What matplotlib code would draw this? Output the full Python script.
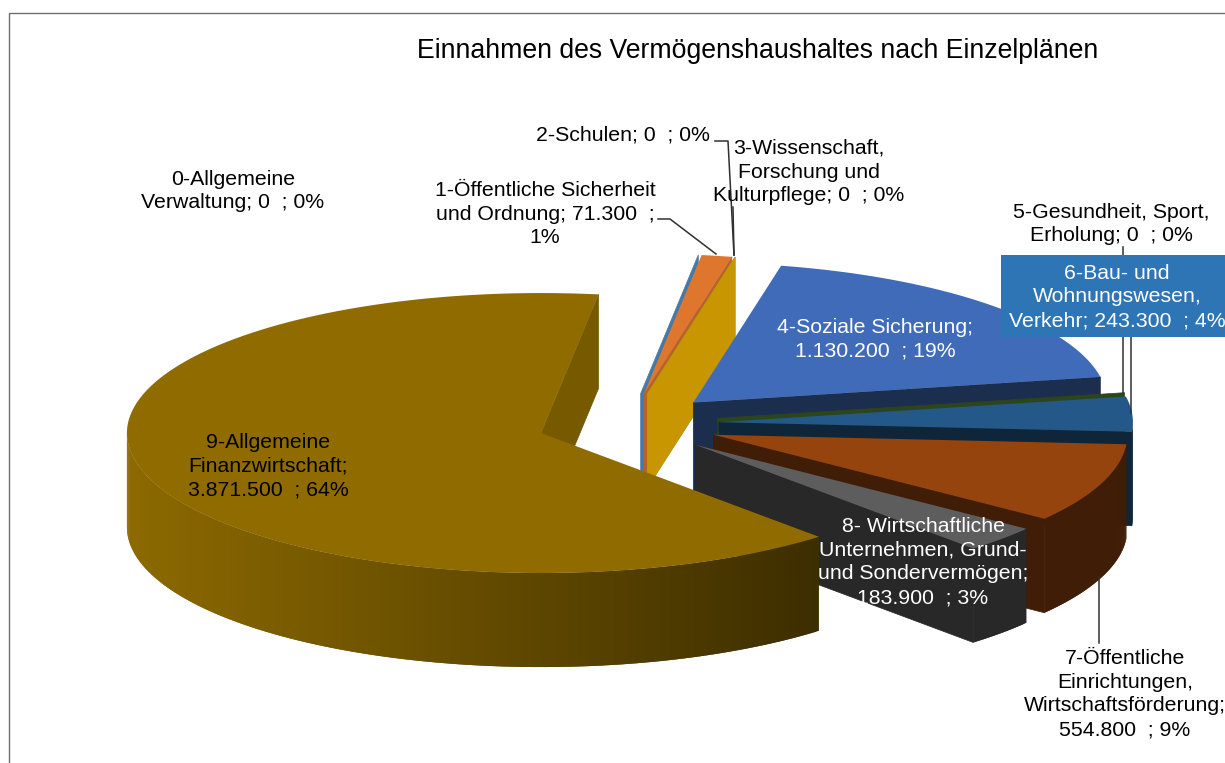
# -*- coding: utf-8 -*-
"""Einnahmen des Vermoegenshaushaltes - exploded 3D pie, drawn by hand (matplotlib has no 3D pie)."""
import numpy as np
import matplotlib; matplotlib.use("Agg")
import matplotlib.pyplot as plt
from matplotlib.collections import PolyCollection
from matplotlib.patches import Polygon, Rectangle

plt.rcParams["font.family"] = ["Liberation Sans", "DejaVu Sans"]

TITLE = "Einnahmen des Vermögenshaushaltes nach Einzelplänen"
VALUES = [0, 71300, 0, 0, 1130200, 0, 243300, 554800, 183900, 3871500]
COLORS = ["#5B9BD5", "#ED7D31", "#A5A5A5", "#FFC000", "#4472C4",
          "#70AD47", "#255E91", "#9E480E", "#636363", "#997300"]
LABELS = ["0-Allgemeine\nVerwaltung; {v}  ; {p}",
          "1-Öffentliche Sicherheit\nund Ordnung; {v}  ;\n{p}",
          "2-Schulen; {v}  ; {p}",
          "3-Wissenschaft,\nForschung und\nKulturpflege; {v}  ; {p}",
          "4-Soziale Sicherung;\n{v}  ; {p}",
          "5-Gesundheit, Sport,\nErholung; {v}  ; {p}",
          "6-Bau- und\nWohnungswesen,\nVerkehr; {v}  ; {p}",
          "7-Öffentliche\nEinrichtungen,\nWirtschaftsförderung;\n{v}  ; {p}",
          "8- Wirtschaftliche\nUnternehmen, Grund-\nund Sondervermögen;\n{v}  ; {p}",
          "9-Allgemeine\nFinanzwirtschaft;\n{v}  ; {p}"]
LABEL_POS = [(233, 191), (545, 214), (623, 135), (809, 172), (875, 339),
             (1111, 224), (1117, 297), (1125, 694), (923, 562), (268, 466)]
LABEL_COL = ["k", "k", "k", "k", "white", "k", "white", "k", "white", "k"]
# leader lines, pixel coords
LEADERS = [[(658, 219), (670, 219), (716, 254)],
           [(715, 141), (728, 141), (734, 255)],
           [(733, 207), (734, 255)],
           [(1123, 247), (1123, 393)],
           [(1131, 337), (1131, 413)],
           [(1099, 577), (1099, 643)]]

# pie geometry in pixels: centre, ellipse radii, height, explosion
CX, CY = 628, 424
RX, RY = 414, 140
DEPTH = 94
EXPLODE = 0.22
START = 8.0  # degrees clockwise from top


def pt(cx, cy, th):
    t = np.radians(th)
    return cx + RX*np.sin(t), cy - RY*np.cos(t)


def shade(col, s):
    return tuple(np.array(matplotlib.colors.to_rgb(col))*s)


fig = plt.figure(figsize=(12.25, 7.63), dpi=100)
ax = fig.add_axes([0, 0, 1, 1])
ax.set_xlim(0, 1225); ax.set_ylim(763, 0); ax.axis("off")

# chart frame, no right or bottom edge in view
ax.plot([8.5, 8.5, 1225], [763, 12.5, 12.5], color="#707070", lw=1.0, zorder=1)
ax.text(757.5, 50.5, TITLE, ha="center", va="center", fontsize=19.15, color="k", zorder=10)

total = sum(VALUES)
th0 = START
for val, col in zip(VALUES, COLORS):
    th1 = th0 + val/total*360.0
    mid = (th0 + th1)/2
    ax_, ay_ = pt(0, 0, mid)
    ox, oy = CX + EXPLODE*ax_, CY + EXPLODE*ay_
    # cut face on the clockwise end, the only one that faces the viewer
    ex, ey = pt(ox, oy, th1)
    s = 0.78 if th1 % 360 < 45 else 0.40
    ax.add_patch(Polygon([(ox, oy), (ex, ey), (ex, ey+DEPTH), (ox, oy+DEPTH)],
                         closed=True, fc=shade(col, s), ec=shade(col, s), lw=0.5, zorder=2))
    if val > 0:
        # outer wall, front half only, overlapping strips for the gradient (no seams)
        a, b = max(th0, 90), min(th1, 270)
        if b > a:
            ths = np.linspace(a, b, int((b-a)*2)+2)
            xs, ys = pt(ox, oy, ths)
            n = len(ths)-1
            quads, cols = [], []
            for i in range(n-1, -1, -1):
                j = min(i+2, n)
                quads.append([(xs[i], ys[i]), (xs[j], ys[j]), (xs[j], ys[j]+DEPTH), (xs[i], ys[i]+DEPTH)])
                cols.append(shade(col, np.interp((xs[i]+xs[i+1])/2, [125, 820], [0.92, 0.40])))
            ax.add_collection(PolyCollection(quads, facecolors=cols, edgecolors="none", zorder=2))
        ths = np.linspace(th0, th1, int(th1-th0)*2+3)
        xs, ys = pt(ox, oy, ths)
        ax.add_patch(Polygon(np.column_stack([np.r_[ox, xs], np.r_[oy, ys]]), closed=True,
                             fc=shade(col, 0.94), ec="none", zorder=2))
    th0 = th1

for line in LEADERS:
    xs, ys = zip(*line)
    ax.plot(xs, ys, color="#303030", lw=1.1, zorder=3)

ax.add_patch(Rectangle((1001, 255), 224, 82, fc="#2E75B6", ec="none", zorder=4))

for tpl, val, pos, c in zip(LABELS, VALUES, LABEL_POS, LABEL_COL):
    vtxt = f"{val:,}".replace(",", ".")
    ptxt = f"{val/total*100:.0f}%"
    ax.text(pos[0], pos[1], tpl.format(v=vtxt, p=ptxt), ha="center", va="center", ma="center",
            fontsize=15.3, color=c, linespacing=1.32, zorder=5)

fig.savefig("out.png", dpi=100)
